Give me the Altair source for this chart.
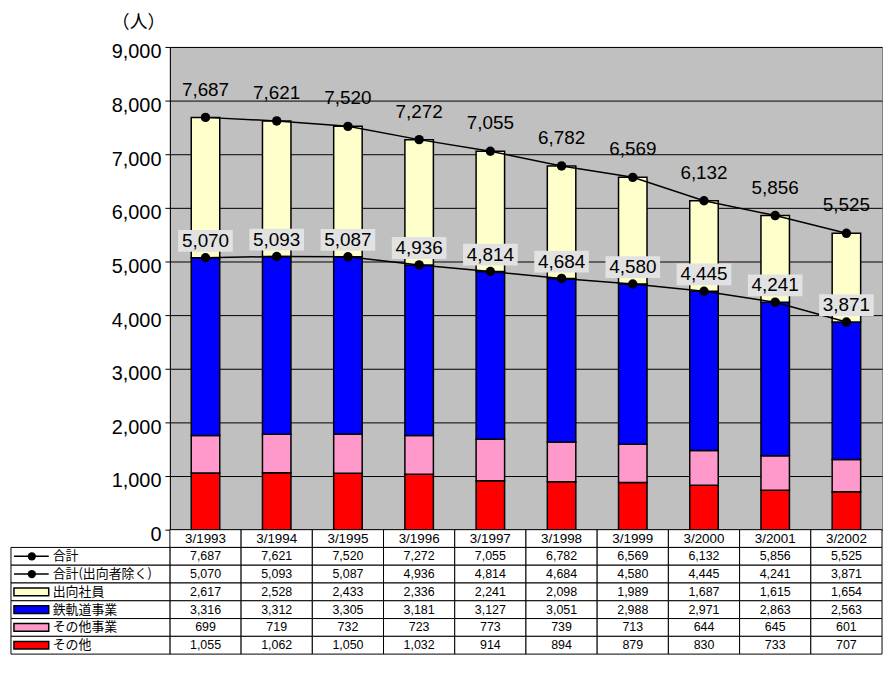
import altair as alt
import pandas as pd

years = ["3/1993", "3/1994", "3/1995", "3/1996", "3/1997",
         "3/1998", "3/1999", "3/2000", "3/2001", "3/2002"]
total = [7687, 7621, 7520, 7272, 7055, 6782, 6569, 6132, 5856, 5525]
total_ex = [5070, 5093, 5087, 4936, 4814, 4684, 4580, 4445, 4241, 3871]
seconded = [2617, 2528, 2433, 2336, 2241, 2098, 1989, 1687, 1615, 1654]
railway = [3316, 3312, 3305, 3181, 3127, 3051, 2988, 2971, 2863, 2563]
other_biz = [699, 719, 732, 723, 773, 739, 713, 644, 645, 601]
other = [1055, 1062, 1050, 1032, 914, 894, 879, 830, 733, 707]

series_names = ["その他", "その他事業", "鉄軌道事業", "出向社員"]
series_colors = ["#FF0000", "#FF99CC", "#0000FF", "#FFFFCC"]
series_values = [other, other_biz, railway, seconded]

line_names = ["合計", "合計(出向者除く)"]
row_names = ["header", "合計", "合計(出向者除く)", "出向社員", "鉄軌道事業", "その他事業", "その他"]

W, H = 717, 486
ROW_H = 17.9

# ---------- data tables ----------
bar_rows = []
for k, (name, vals) in enumerate(zip(series_names, series_values)):
    for y, v in zip(years, vals):
        bar_rows.append({"year": y, "series": name, "value": v, "ord": k})
bar_df = pd.DataFrame(bar_rows)

line_rows = []
for name, vals in zip(line_names, [total, total_ex]):
    for y, v in zip(years, vals):
        line_rows.append({"year": y, "kind": name, "value": v, "label": f"{v:,}"})
line_df = pd.DataFrame(line_rows)

xs = alt.X("year:N", sort=years, scale=alt.Scale(paddingInner=0.6, paddingOuter=0.3), axis=None)
ysc = alt.Scale(domain=[0, 9000], nice=False, zero=True)

y_axis = alt.Axis(
    values=list(range(0, 9001, 1000)), format=",.0f", grid=True,
    gridColor="black", gridWidth=1, domainColor="black", domainWidth=1,
    tickColor="black", tickSize=5, labelFont="Liberation Sans", labelFontSize=20,
    labelColor="black", labelPadding=4, labelOffset=5, labelFlush=False,
    labelOverlap=False,
    title="（人）", titleAngle=0, titleAlign="center", titleBaseline="middle",
    titleX=-32, titleY=-25, titleFont="Noto Sans CJK JP", titleFontSize=18,
    titleFontWeight="normal", titleColor="black",
)

bars = alt.Chart(bar_df).mark_bar(stroke="black", strokeWidth=1.5).encode(
    x=xs,
    y=alt.Y("value:Q", stack="zero", scale=ysc, axis=y_axis),
    color=alt.Color("series:N", scale=alt.Scale(domain=series_names, range=series_colors), legend=None),
    order=alt.Order("ord:Q"),
)

base_line = alt.Chart(line_df).encode(
    x=xs, y=alt.Y("value:Q", scale=ysc), detail="kind:N"
)
lines = base_line.mark_line(color="black", strokeWidth=1.5)
dots = base_line.mark_circle(color="black", size=90, opacity=1)

top_lbl = alt.Chart(line_df).transform_filter(alt.datum.kind == "合計").mark_text(
    font="Liberation Sans", fontSize=19, color="black", dy=-28
).encode(x=xs, y=alt.Y("value:Q", scale=ysc), text="label:N")

ex_df_base = alt.Chart(line_df).transform_filter(alt.datum.kind == "合計(出向者除く)")
ex_bg = ex_df_base.mark_point(
    shape="M-1,-0.4L1,-0.4L1,0.4L-1,0.4Z", filled=True, color="#e2e2e2",
    size=55 * 55, opacity=1, yOffset=-17
).encode(x=xs, y=alt.Y("value:Q", scale=ysc))
ex_lbl = ex_df_base.mark_text(
    font="Liberation Sans", fontSize=19, color="black", dy=-17
).encode(x=xs, y=alt.Y("value:Q", scale=ysc), text="label:N")

top = alt.layer(bars, lines, dots, top_lbl, ex_bg, ex_lbl).properties(
    width=W, height=H,
    view=alt.ViewBackground(fill="#C0C0C0", stroke="#808080", strokeWidth=1),
)

# ---------- data table ----------
cell_rows = []
for y_i, y in enumerate(years):
    cell_rows.append({"year": y, "row": "header", "text": y})
    for name, vals in zip(row_names[1:], [total, total_ex, seconded, railway, other_biz, other]):
        cell_rows.append({"year": y, "row": name, "text": f"{vals[y_i]:,}"})
cell_df = pd.DataFrame(cell_rows)

label_df = pd.DataFrame({"row": row_names[1:]})
sym_line_df = pd.DataFrame({"row": line_names})
sym_bar_df = pd.DataFrame({"row": series_names[::-1], "series": series_names[::-1]})

tx = alt.X("year:N", sort=years, scale=alt.Scale(paddingInner=0, paddingOuter=0), axis=None)
ty = alt.Y("row:N", sort=row_names, scale=alt.Scale(domain=row_names, paddingInner=0, paddingOuter=0), axis=None)
tyc = alt.Y("row:N", sort=row_names, scale=alt.Scale(domain=row_names, paddingInner=0, paddingOuter=0), axis=None, bandPosition=0.5)

cells = alt.Chart(cell_df).mark_rect(fill="white", stroke="black", strokeWidth=1).encode(x=tx, y=ty)
cell_text = alt.Chart(cell_df).transform_filter(alt.datum.row != "header").mark_text(
    font="Liberation Sans", fontSize=12.5, color="black", baseline="middle"
).encode(x=tx, y=tyc, text="text:N")
head_text = alt.Chart(cell_df).transform_filter(alt.datum.row == "header").mark_text(
    font="Liberation Sans", fontSize=13.5, color="black", baseline="middle"
).encode(x=tx, y=tyc, text="text:N")

label_cells = alt.Chart(label_df).mark_rect(fill="white", stroke="black", strokeWidth=1).encode(
    x=alt.value(-160), x2=alt.value(0), y=ty
)
label_text = alt.Chart(label_df).mark_text(
    font="Noto Sans CJK JP", fontSize=13, color="black", align="left", baseline="middle"
).encode(x=alt.value(-118), y=tyc, text="row:N")

sym_rule = alt.Chart(sym_line_df).mark_rule(color="black", strokeWidth=1.5).encode(
    x=alt.value(-157), x2=alt.value(-122), y=tyc
)
sym_dot = alt.Chart(sym_line_df).mark_circle(color="black", size=70, opacity=1).encode(
    x=alt.value(-139), y=tyc
)
sym_bar = alt.Chart(sym_bar_df).mark_point(
    shape="M-1,-0.22L1,-0.22L1,0.22L-1,0.22Z", filled=True, size=35 * 35,
    stroke="black", strokeWidth=1.5, opacity=1
).encode(
    x=alt.value(-139.5), y=tyc,
    fill=alt.Fill("series:N", scale=alt.Scale(domain=series_names, range=series_colors), legend=None),
)

table = alt.layer(cells, cell_text, head_text, label_cells, label_text, sym_rule, sym_dot, sym_bar).properties(
    width=W, height=ROW_H * len(row_names),
    view=alt.ViewBackground(stroke=None),
)

chart = alt.vconcat(top, table, spacing=0, bounds="flush").properties(
    padding={"left": 2, "top": 2, "right": 2, "bottom": 2}
).resolve_scale(x="independent", y="independent", color="independent", fill="independent").configure(
    background="white"
)

chart.save("out.html", embed_options={"renderer": "svg", "actions": False})
